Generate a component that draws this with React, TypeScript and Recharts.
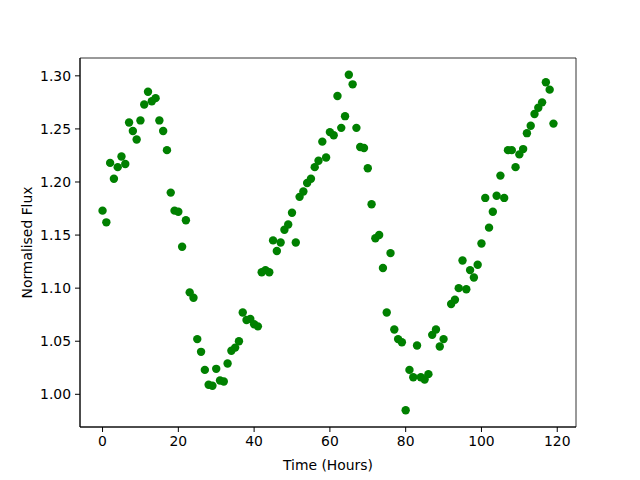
import React from "react";
import {
  ScatterChart,
  Scatter,
  XAxis,
  YAxis,
  ReferenceArea,
} from "recharts";

// hourly samples (hour 91 has no point)
const hours = [
  0, 1, 2, 3, 4, 5, 6, 7, 8, 9, 10, 11, 12, 13, 14, 15, 16, 17, 18, 19,
  20, 21, 22, 23, 24, 25, 26, 27, 28, 29, 30, 31, 32, 33, 34, 35, 36, 37, 38, 39,
  40, 41, 42, 43, 44, 45, 46, 47, 48, 49, 50, 51, 52, 53, 54, 55, 56, 57, 58, 59,
  60, 61, 62, 63, 64, 65, 66, 67, 68, 69, 70, 71, 72, 73, 74, 75, 76, 77, 78, 79,
  80, 81, 82, 83, 84, 85, 86, 87, 88, 89, 90, 92, 93, 94, 95, 96, 97, 98, 99,
  100, 101, 102, 103, 104, 105, 106, 107, 108, 109, 110, 111, 112, 113, 114, 115, 116, 117, 118, 119,
];

const flux = [
  1.173, 1.162, 1.218, 1.203, 1.214, 1.224, 1.217, 1.256, 1.248, 1.240,
  1.258, 1.273, 1.285, 1.276, 1.279, 1.258, 1.248, 1.230, 1.190, 1.173,
  1.172, 1.139, 1.164, 1.096, 1.091, 1.052, 1.040, 1.023, 1.009, 1.008,
  1.024, 1.013, 1.012, 1.029, 1.041, 1.044, 1.050, 1.077, 1.070, 1.071,
  1.066, 1.064, 1.115, 1.117, 1.115, 1.145, 1.135, 1.143, 1.155, 1.160,
  1.171, 1.143, 1.186, 1.191, 1.199, 1.203, 1.214, 1.220, 1.238, 1.223,
  1.247, 1.244, 1.281, 1.251, 1.262, 1.301, 1.292, 1.251, 1.233, 1.232,
  1.213, 1.179, 1.147, 1.150, 1.119, 1.077, 1.133, 1.061, 1.052, 1.049,
  0.985, 1.023, 1.016, 1.046, 1.016, 1.014, 1.019, 1.056, 1.061, 1.045,
  1.052, 1.085, 1.089, 1.100, 1.126, 1.099, 1.117, 1.110, 1.122,
  1.142, 1.185, 1.157, 1.172, 1.187, 1.206, 1.185, 1.230, 1.230, 1.214,
  1.226, 1.231, 1.246, 1.253, 1.264, 1.270, 1.275, 1.294, 1.287, 1.255,
];

const xTicks = [0, 20, 40, 60, 80, 100, 120];
const yTicks = [1.0, 1.05, 1.1, 1.15, 1.2, 1.25, 1.3];

const points = hours.map((h, i) => ({ time: h, flux: flux[i] }));

// matplotlib-like 5% padding around the data
const pad = (lo: number, hi: number): [number, number] => {
  const m = (hi - lo) * 0.05;
  return [lo - m, hi + m];
};
const xDomain = pad(Math.min(...hours), Math.max(...hours));
const yDomain = pad(Math.min(...flux), Math.max(...flux));

const font = "'DejaVu Sans', sans-serif";
const tickStyle = { fill: "#000", fontSize: 13.9, fontFamily: font };

export default function App() {
  return (
    <div style={{ position: "fixed", left: 0, top: 0, width: 640, height: 480, background: "#fff" }}>
      <ScatterChart
        width={640}
        height={480}
        margin={{ top: 58, right: 64, bottom: 0, left: 0 }}
      >
        <XAxis
          type="number"
          dataKey="time"
          domain={xDomain}
          ticks={xTicks}
          allowDataOverflow
          height={53}
          tickSize={5}
          tickMargin={4}
          stroke="#000"
          tick={tickStyle}
          label={{
            value: "Time (Hours)",
            position: "insideBottom",
            offset: 10,
            style: { fill: "#000", fontSize: 13.9, fontFamily: font },
          }}
        />
        <YAxis
          type="number"
          dataKey="flux"
          domain={yDomain}
          ticks={yTicks}
          allowDataOverflow
          width={80}
          tickSize={5}
          tickMargin={4}
          stroke="#000"
          tick={tickStyle}
          tickFormatter={(v: number) => v.toFixed(2)}
          label={{
            value: "Normalised Flux",
            angle: -90,
            position: "insideLeft",
            offset: 27,
            style: { fill: "#000", fontSize: 13.9, fontFamily: font, textAnchor: "middle" },
          }}
        />
        {/* axes frame */}
        <ReferenceArea
          x1={xDomain[0]}
          x2={xDomain[1]}
          y1={yDomain[0]}
          y2={yDomain[1]}
          fill="none"
          stroke="#000"
          strokeWidth={0.8}
          ifOverflow="visible"
        />
        <Scatter
          data={points}
          fill="#008000"
          isAnimationActive={false}
          shape={(p: any) => <circle cx={p.cx} cy={p.cy} r={4.2} fill="#008000" />}
        />
      </ScatterChart>
    </div>
  );
}
